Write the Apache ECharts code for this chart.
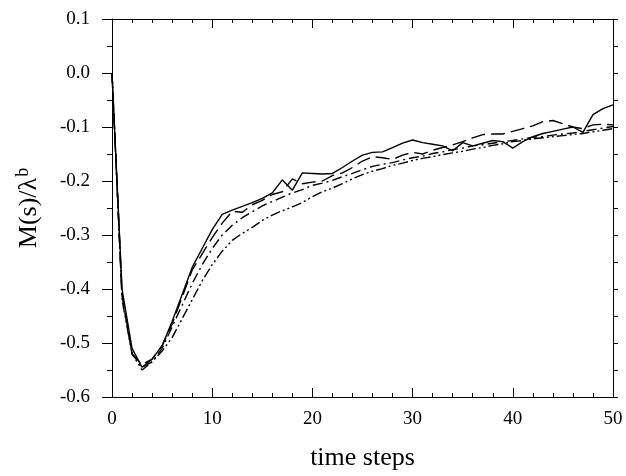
<!DOCTYPE html>
<html>
<head>
<meta charset="utf-8">
<script src="https://cdn.jsdelivr.net/npm/echarts@6/dist/echarts.min.js"></script>
<style>html,body{margin:0;padding:0;background:#fff}#c{width:626px;height:476px}</style>
</head>
<body>
<div id="c"></div>
<script>
const steps = Array.from({length: 51}, (_, i) => i);
const xTicks = [0, 10, 20, 30, 40, 50];
const yTicks = [-0.6, -0.5, -0.4, -0.3, -0.2, -0.1, 0.0, 0.1];

const solid = [0, -0.40, -0.51, -0.545, -0.53, -0.505, -0.46, -0.41, -0.36, -0.325,
  -0.29, -0.262, -0.254, -0.247, -0.24, -0.232, -0.222, -0.198, -0.217, -0.185,
  -0.186, -0.187, -0.186, -0.175, -0.163, -0.152, -0.147, -0.146, -0.138, -0.13,
  -0.124, -0.129, -0.132, -0.135, -0.144, -0.129, -0.135, -0.13, -0.125, -0.127,
  -0.139, -0.127, -0.118, -0.112, -0.108, -0.104, -0.1, -0.11, -0.077, -0.066, -0.059];
const dashed = [0, -0.41, -0.52, -0.54, -0.53, -0.505, -0.465, -0.415, -0.365, -0.335,
  -0.305, -0.278, -0.256, -0.258, -0.244, -0.236, -0.225, -0.22, -0.196, -0.205,
  -0.202, -0.2, -0.19, -0.185, -0.175, -0.163, -0.155, -0.157, -0.16, -0.152,
  -0.147, -0.15, -0.143, -0.138, -0.133, -0.127, -0.12, -0.114, -0.113, -0.113,
  -0.108, -0.103, -0.098, -0.09, -0.088, -0.094, -0.1, -0.103, -0.096, -0.095, -0.096];
const dashDot = [0, -0.41, -0.52, -0.545, -0.535, -0.51, -0.47, -0.43, -0.39, -0.355,
  -0.325, -0.3, -0.282, -0.268, -0.257, -0.246, -0.238, -0.23, -0.222, -0.216,
  -0.208, -0.204, -0.199, -0.192, -0.186, -0.179, -0.173, -0.169, -0.166, -0.161,
  -0.157, -0.154, -0.149, -0.146, -0.142, -0.139, -0.135, -0.133, -0.13, -0.127,
  -0.125, -0.122, -0.119, -0.118, -0.115, -0.113, -0.111, -0.108, -0.105, -0.102, -0.099];
const dashDotDot = [0, -0.42, -0.52, -0.55, -0.535, -0.515, -0.49, -0.455, -0.42, -0.385,
  -0.355, -0.33, -0.31, -0.297, -0.286, -0.273, -0.263, -0.255, -0.248, -0.24,
  -0.229, -0.22, -0.213, -0.205, -0.196, -0.188, -0.182, -0.177, -0.171, -0.167,
  -0.162, -0.158, -0.155, -0.151, -0.148, -0.145, -0.141, -0.138, -0.134, -0.131,
  -0.127, -0.125, -0.122, -0.12, -0.118, -0.116, -0.114, -0.112, -0.109, -0.106, -0.103];

const pair = arr => steps.map((s, i) => [s, arr[i]]);
const font = 'Liberation Serif';
const tick = (inside, len) => ({show: true, inside: inside, length: len, lineStyle: {color: '#000', width: 1}});
const minor = (n, len) => ({show: true, splitNumber: n, length: len, lineStyle: {color: '#000', width: 1}});
const line = {show: true, onZero: false, lineStyle: {color: '#000', width: 1}};

const chart = echarts.init(document.getElementById('c'), null, {renderer: 'canvas'});
const lineSeries = (data, type) => ({
  type: 'line', data: pair(data), showSymbol: false, symbol: 'none',
  xAxisIndex: 0, yAxisIndex: 0,
  lineStyle: {color: '#000', width: 1.4, type: type}, animation: false
});
chart.setOption({
  animation: false,
  backgroundColor: '#fff',
  grid: {left: 112, right: 13, top: 19, bottom: 73, containLabel: false},
  xAxis: [{
    type: 'value', position: 'bottom', min: xTicks[0], max: xTicks[xTicks.length - 1], interval: 10,
    name: 'time steps', nameLocation: 'middle', nameGap: 48,
    nameTextStyle: {fontFamily: font, fontSize: 26, color: '#000'},
    axisLine: line, axisTick: tick(true, 9), minorTick: minor(5, 4),
    splitLine: {show: false},
    axisLabel: {fontFamily: font, fontSize: 19, color: '#000', margin: 13,
      formatter: v => String(v)}
  }, {
    type: 'value', position: 'top', min: 0, max: 50, interval: 10,
    axisLine: line, axisTick: tick(true, 9), minorTick: minor(5, 4),
    splitLine: {show: false}, axisLabel: {show: false}
  }],
  yAxis: [{
    type: 'value', position: 'left', min: yTicks[0], max: yTicks[yTicks.length - 1], interval: 0.1,
    name: '{a|M(s)/λ}{b|b}', nameLocation: 'middle', nameGap: 68, nameRotate: 90,
    nameTextStyle: {fontFamily: font, color: '#000',
      rich: {a: {fontFamily: font, fontSize: 26, lineHeight: 30, color: '#000'},
             b: {fontFamily: font, fontSize: 18, lineHeight: 12, color: '#000', verticalAlign: 'top', padding: [0, 0, 0, 1]}}},
    axisLine: line, axisTick: tick(false, 10), minorTick: minor(2, 5),
    splitLine: {show: false},
    axisLabel: {fontFamily: font, fontSize: 19, color: '#000', margin: 22,
      formatter: v => v.toFixed(1)}
  }, {
    type: 'value', position: 'right', min: -0.6, max: 0.1, interval: 0.1,
    axisLine: line, axisTick: tick(false, 5), minorTick: minor(2, 5),
    splitLine: {show: false}, axisLabel: {show: false}
  }],
  series: [
    lineSeries(solid, 'solid'),
    lineSeries(dashed, [14, 6]),
    lineSeries(dashDot, [10, 4, 2, 4]),
    lineSeries(dashDotDot, [10, 3, 2, 3, 2, 3])
  ]
});
</script>
</body>
</html>
